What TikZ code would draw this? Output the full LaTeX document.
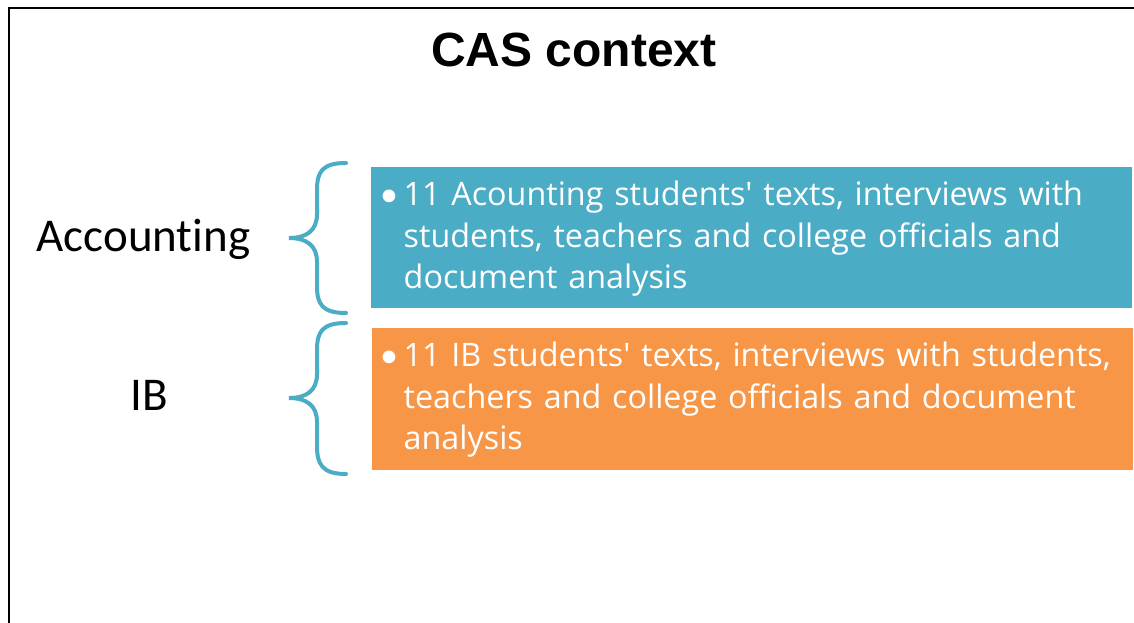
\documentclass[tikz,border=0pt]{standalone}
\usepackage{fontspec}
\setmainfont{Carlito}[Ligatures=NoCommon]
\newfontfamily\headfont{Liberation Sans}
\newfontfamily\bodyfont{Open Sans}[Ligatures=NoCommon]
\usetikzlibrary{calc}
\definecolor{tealbox}{HTML}{4BACC6}
\definecolor{orangebox}{HTML}{F79646}
\tikzset{
  frame/.style={draw=black, line width=2pt},
  bracket/.style={draw=tealbox, line width=4pt, line cap=round},
  box/.style={rectangle, inner sep=0pt, anchor=north west},
  lab/.style={text=black, font=\fontsize{47}{50}\selectfont, inner sep=0pt, anchor=base},
  dot/.style={text=white, font=\fontsize{36}{41.5}\selectfont, inner sep=0pt, anchor=base west},
  boxtext/.style={text=white, font=\bodyfont\fontsize{32.3}{41.5}\selectfont, align=left, inner sep=0pt, anchor=base west, text width=725pt},
}

\begin{document}
\begin{tikzpicture}[x=1pt,y=-1pt]
  \useasboundingbox (0,0) rectangle (1134,622);
  \draw[frame] (8.5,640) -- (8.5,7.5) -- (1150,7.5);
  \node[font=\headfont\bfseries\fontsize{48}{52}\selectfont, inner sep=0pt, anchor=base] (title) at (574,66.7) {CAS context};

  % coloured boxes
  \node[box, fill=tealbox, minimum width=760.5pt, minimum height=141pt] (acctbox) at (371,167) {};
  \node[box, fill=orangebox, minimum width=761pt, minimum height=142pt] (ibbox) at (372,328) {};

  \node[dot] (acctdot) at (380,206) {•};
  \node[boxtext] (accttext) at (403.5,205.5)
    {11 Acounting students\textquotesingle{} texts, interviews with\\
     students, teachers and college officials and\\
     document analysis};
  \node[dot] (ibdot) at (380,367) {•};
  \node[boxtext] (ibtext) at (403.5,366.5)
    {11 IB students\textquotesingle{} texts, interviews with students,\\
     teachers and college officials and document\\
     analysis};

  % braces
  \draw[bracket] (346,163) .. controls (322,163) and (317,172) .. (317,190) -- (317,214)
    .. controls (317,231) and (306,238) .. (289,238)
    .. controls (306,238) and (317,245) .. (317,262) -- (317,286)
    .. controls (317,304) and (322,313) .. (346,313);
  \draw[bracket] (346,323) .. controls (322,323) and (317,332) .. (317,350) -- (317,374)
    .. controls (317,391) and (306,398) .. (289,398)
    .. controls (306,398) and (317,405) .. (317,422) -- (317,446)
    .. controls (317,464) and (322,474) .. (346,474);

  \node[lab] (acctlab) at (143.5,251.7) {Accounting};
  \node[lab] (iblab) at (149,410) {IB};
\end{tikzpicture}
\end{document}
